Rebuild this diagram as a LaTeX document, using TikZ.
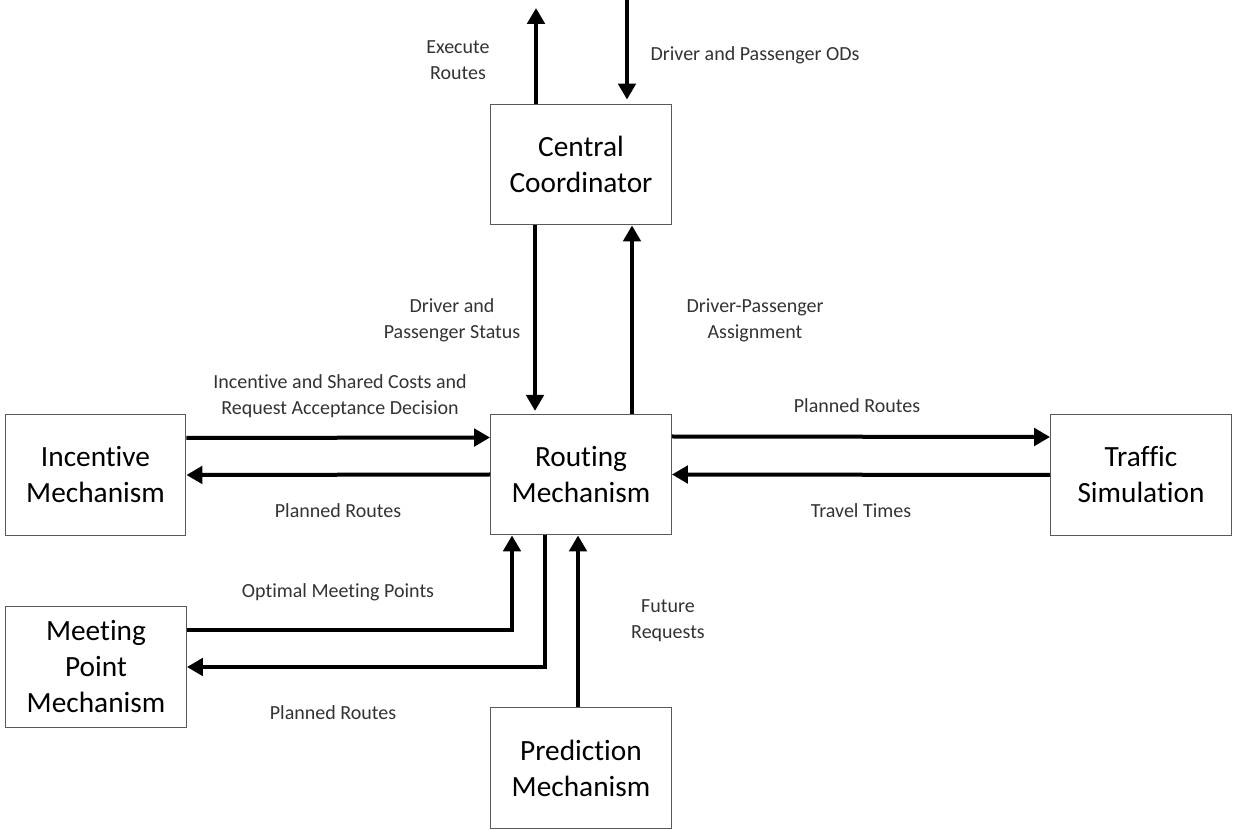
\documentclass[tikz,border=0pt]{standalone}
\usepackage{fontspec}
\setmainfont{Carlito}[Ligatures=NoCommon]
\usetikzlibrary{arrows.meta,calc}

\begin{document}
\begin{tikzpicture}[x=0.75pt,y=-0.75pt]
        \tikzstyle{block} = [rectangle,draw=black!65,line width=0.9pt,inner sep=0pt,
          minimum width=135.5pt,minimum height=90.5pt,align=center,
          font=\fontsize{22}{27}\selectfont]
        \tikzstyle{lbl} = [inner sep=0pt,align=center,text=black!80,
          font=\fontsize{15}{19.5}\selectfont]
        \tikzstyle{flow} = [-{Triangle[length=12pt,width=13pt]},line width=3pt]
        \useasboundingbox (0,0) rectangle (1233,830);
        % boxes
        \node[block] (cc) at (581, 164.5) {Central\\Coordinator};
        \node[block] (rm) at (581, 474.5) {Routing\\Mechanism};
        \node[block] (im) at (95.5, 475) {Incentive\\Mechanism};
        \node[block] (ts) at (1141, 475) {Traffic\\Simulation};
        \node[block] (mp) at (96, 667) {Meeting\\Point\\Mechanism};
        \node[block] (pm) at (581, 768) {Prediction\\Mechanism};
        % free ends at the top
        \coordinate (execend) at (536, 8);
        \coordinate (odsstart) at (627, 0);
        % labels
        \node[lbl] (lexec) at (458, 60) {Execute\\Routes};
        \node[lbl] (lods) at (755, 55) {Driver and Passenger ODs};
        \node[lbl] (lstatus) at (452, 320) {Driver and\\Passenger Status};
        \node[lbl] (lassign) at (755, 320) {Driver-Passenger\\Assignment};
        \node[lbl] (lcost) at (340, 396) {Incentive and Shared Costs and\\Request Acceptance Decision};
        \node[lbl] (lplana) at (338, 511) {Planned Routes};
        \node[lbl] (lplanb) at (857, 406) {Planned Routes};
        \node[lbl] (ltravel) at (861, 511) {Travel Times};
        \node[lbl] (lmeet) at (338, 592) {Optimal Meeting Points};
        \node[lbl] (lplanc) at (333, 713) {Planned Routes};
        \node[lbl] (lfuture) at (668, 621) {Future\\Requests};
        % connectors
        \draw[flow] (execend |- cc.north) -- (execend);
        \draw[flow,shorten >=3pt] (odsstart) -- (odsstart |- cc.north);
        \draw[flow,shorten >=2pt] ($(cc.south)+(-46,0)$) -- ($(rm.north)+(-46,0)$);
        \draw[flow] ($(rm.north)+(51,0)$) -- ($(cc.south)+(51,0)$);
        \draw[flow] ($(im.east)+(0,-37)$) -- ($(rm.west)+(0,-37)$);
        \draw[flow] (rm.west) -- (im.east);
        \draw[flow] ($(rm.east)+(0,-38)$) -- ($(ts.west)+(0,-38)$);
        \draw[flow] (ts.west) -- (rm.east);
        \draw[flow] ($(mp.east)+(0,-37)$) -| ($(rm.south)+(-69,0)$);
        \draw[flow] ($(rm.south)+(-36,0)$) |- (mp.east);
        \draw[flow] ($(pm.north)+(-3,0)$) -- ($(rm.south)+(-3,0)$);
\end{tikzpicture}
\end{document}
